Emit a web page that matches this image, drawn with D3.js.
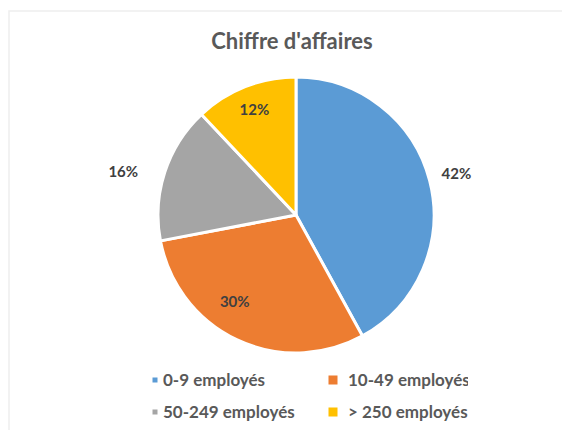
<!DOCTYPE html>
<html><head><meta charset="utf-8">
<script src="https://cdn.jsdelivr.net/npm/d3@7"></script>
<style>html,body{margin:0;padding:0;background:#fff;}</style>
</head><body>
<div id="chart"></div>
<script>
const categories = ["0-9 employés", "10-49 employés", "50-249 employés", "> 250 employés"];
const values = [42, 30, 16, 12];
const colors = ["#5B9BD5", "#ED7D31", "#A5A5A5", "#FFC000"];
const title = "Chiffre d'affaires";

const W = 562, H = 430;
const svg = d3.select("#chart").append("svg").attr("width", W).attr("height", H);

svg.append("rect").attr("x", 9).attr("y", 11).attr("width", W + 10).attr("height", H + 10)
  .attr("fill", "none").attr("stroke", "#eeeeee").attr("stroke-width", 1.5);

svg.append("text").attr("x", 292).attr("y", 49).attr("text-anchor", "middle")
  .attr("font-family", "Lato, 'Open Sans', sans-serif").attr("font-weight", 700)
  .attr("font-size", 22).attr("fill", "#595959").text(title);

const cx = 296, cy = 215, R = 138;
const data = categories.map((c, i) => ({cat: c, value: values[i], color: colors[i]}));
const pie = d3.pie().value(d => d.value).sort(null);
const arc = d3.arc().innerRadius(0).outerRadius(R);
const arcs = pie(data);

const g = svg.append("g").attr("transform", `translate(${cx},${cy})`);
g.selectAll("path").data(arcs).join("path")
  .attr("d", arc).attr("fill", d => d.data.color)
  .attr("stroke", "#fff").attr("stroke-width", 3).attr("stroke-linejoin", "round");

// label placement: radius factor and angular shift (degrees) from slice mid-angle
const labelRadius = [1.2, 0.77, 1.29, 0.82];
const labelShift = [0, 10, -4, 0];
g.selectAll("text.lbl").data(arcs).join("text").attr("class", "lbl")
  .attr("transform", (d, i) => {
    const a = (d.startAngle + d.endAngle) / 2 + labelShift[i] * Math.PI / 180;
    const r = labelRadius[i] * R;
    return `translate(${Math.sin(a) * r},${-Math.cos(a) * r})`;
  })
  .attr("text-anchor", "middle").attr("dy", "0.35em")
  .attr("font-family", "Lato, 'Open Sans', sans-serif").attr("font-weight", 700)
  .attr("font-size", 15).attr("fill", "#404040")
  .text(d => d.data.value + "%");

// legend
const legendPos = [[155, 380], [330, 380], [155, 412], [330, 412]];
const markSize = [5, 9, 5, 9];
svg.append("defs").append("clipPath").attr("id", "lc").append("rect")
  .attr("x", 0).attr("y", 0).attr("width", 468).attr("height", H);
const lg = svg.append("g").attr("clip-path", "url(#lc)");
data.forEach((d, i) => {
  const [x, y] = legendPos[i];
  const s = markSize[i];
  lg.append("rect").attr("x", x - s / 2 + (i % 2 ? 3 : 0)).attr("y", y - s / 2).attr("width", s).attr("height", s).attr("fill", d.color);
  lg.append("text").attr("x", x + (i % 2 ? 18 : 8)).attr("y", y).attr("dy", "0.35em")
    .attr("font-family", "Lato, 'Open Sans', sans-serif").attr("font-weight", 700)
    .attr("font-size", 17).attr("fill", "#595959").text(d.cat);
});
</script>
</body></html>
